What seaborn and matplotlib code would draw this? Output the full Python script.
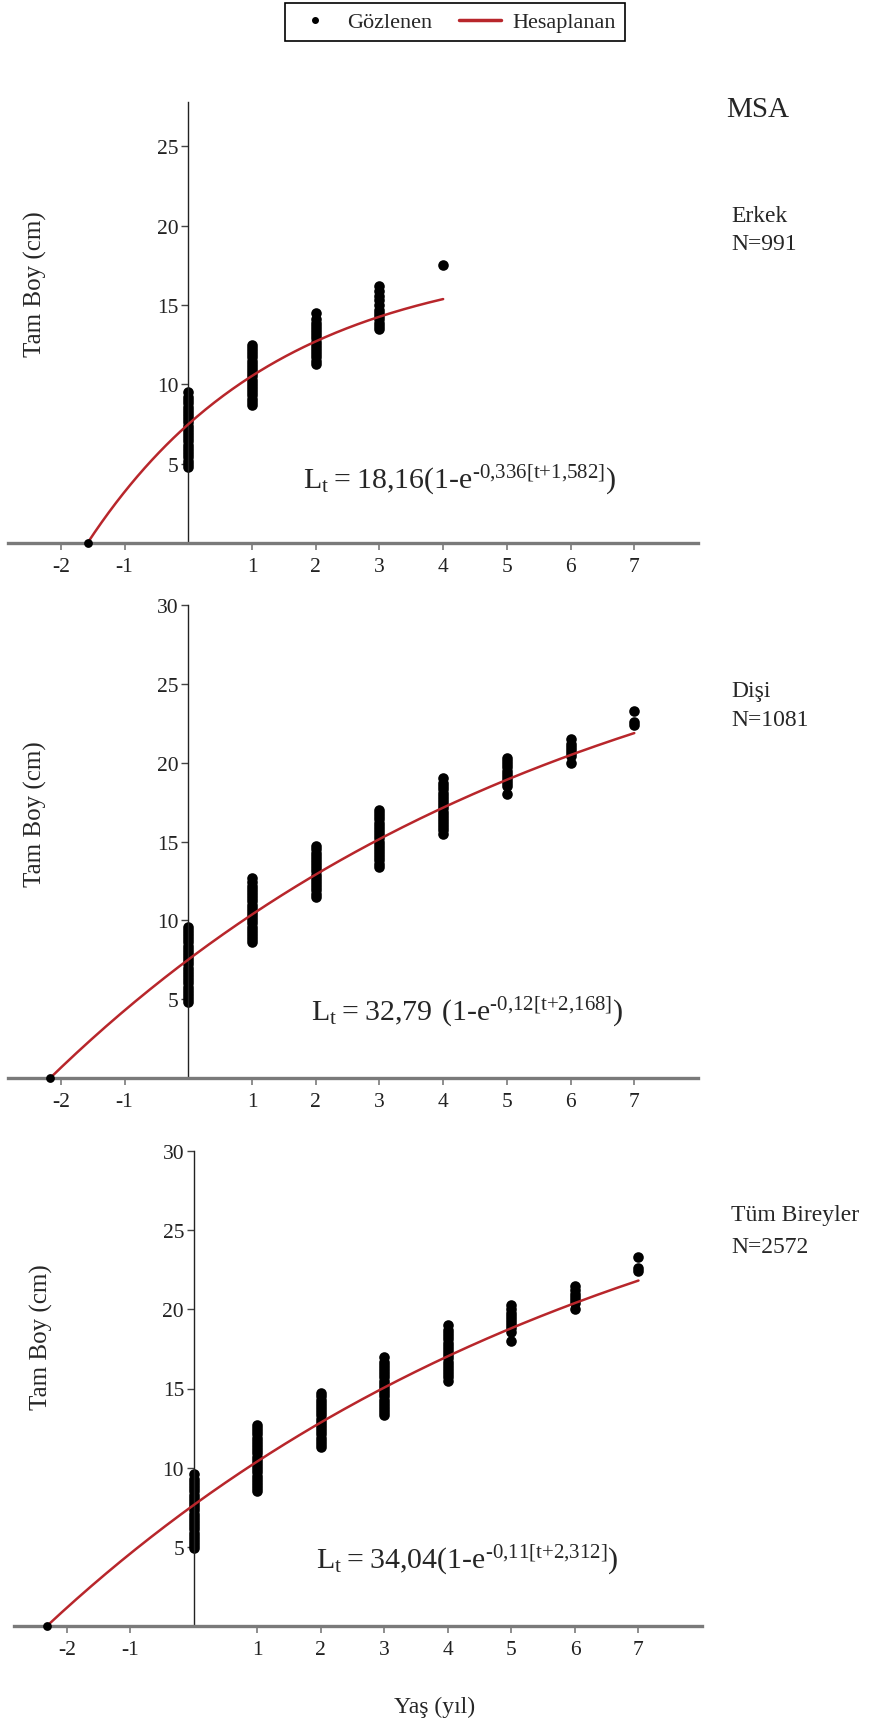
import numpy as np
import pandas as pd
import matplotlib.pyplot as plt
import seaborn as sns
from matplotlib.lines import Line2D

sns.set_style('white')
plt.rcParams['font.family'] = ['Liberation Serif', 'DejaVu Serif']
plt.rcParams['mathtext.fontset'] = 'custom'
plt.rcParams['mathtext.rm'] = 'Liberation Serif'
plt.rcParams['axes.unicode_minus'] = False

# gözlenen boylar (cm), yaş grubuna göre
erkek_boy = {
    0: [4.8, 5.0, 5.2, 5.4, 5.6, 5.8, 6.0, 6.2, 6.4, 6.6, 6.8, 7.0, 7.2, 7.4, 7.6, 7.8, 8.0, 8.2, 8.4, 8.6, 8.8, 9.0, 9.2, 9.5],
    1: [8.7, 8.9, 9.1, 9.3, 9.5, 9.7, 9.9, 10.1, 10.3, 10.5, 10.7, 10.9, 11.1, 11.3, 11.5, 11.7, 11.9, 12.1, 12.3, 12.5],
    2: [11.3, 11.5, 11.7, 11.9, 12.1, 12.3, 12.5, 12.7, 12.9, 13.1, 13.3, 13.5, 13.7, 13.9, 14.1, 14.5],
    3: [13.5, 13.7, 13.9, 14.1, 14.3, 14.5, 14.7, 15.0, 15.3, 15.6, 15.9, 16.2],
    4: [17.5],
}
disi_boy = {
    0: [4.8, 5.0, 5.2, 5.4, 5.6, 5.8, 6.0, 6.2, 6.4, 6.6, 6.8, 7.0, 7.2, 7.4, 7.6, 7.8, 8.0, 8.2, 8.4, 8.6, 8.8, 9.0, 9.2, 9.4, 9.6],
    1: [8.6, 8.8, 9.0, 9.2, 9.4, 9.6, 9.8, 10.0, 10.2, 10.4, 10.6, 10.8, 11.0, 11.2, 11.4, 11.6, 11.8, 12.0, 12.2, 12.4, 12.7],
    2: [11.5, 11.7, 11.9, 12.1, 12.3, 12.5, 12.7, 12.9, 13.1, 13.3, 13.5, 13.7, 13.9, 14.1, 14.3, 14.5, 14.7],
    3: [13.4, 13.6, 13.8, 14.0, 14.2, 14.4, 14.6, 14.8, 15.0, 15.2, 15.4, 15.6, 15.8, 16.0, 16.2, 16.4, 16.6, 16.8, 17.0],
    4: [15.5, 15.7, 15.9, 16.1, 16.3, 16.5, 16.7, 16.9, 17.1, 17.3, 17.5, 17.7, 17.9, 18.1, 18.3, 18.5, 18.7, 19.0],
    5: [18.0, 18.5, 18.7, 18.9, 19.1, 19.3, 19.5, 19.7, 19.9, 20.1, 20.3],
    6: [20.0, 20.4, 20.6, 20.8, 21.0, 21.2, 21.5],
    7: [22.4, 22.6, 23.3],
}
tum_boy = {
    0: [4.9, 5.1, 5.3, 5.5, 5.7, 5.9, 6.1, 6.3, 6.5, 6.7, 6.9, 7.1, 7.3, 7.5, 7.7, 7.9, 8.1, 8.3, 8.5, 8.7, 8.9, 9.1, 9.3, 9.6],
    1: [8.5, 8.7, 8.9, 9.1, 9.3, 9.5, 9.7, 9.9, 10.1, 10.3, 10.5, 10.7, 10.9, 11.1, 11.3, 11.5, 11.7, 11.9, 12.1, 12.3, 12.5, 12.7],
    2: [11.3, 11.5, 11.7, 11.9, 12.1, 12.3, 12.5, 12.7, 12.9, 13.1, 13.3, 13.5, 13.7, 13.9, 14.1, 14.3, 14.5, 14.7],
    3: [13.3, 13.5, 13.7, 13.9, 14.1, 14.3, 14.5, 14.7, 14.9, 15.1, 15.3, 15.5, 15.7, 15.9, 16.1, 16.3, 16.5, 16.7, 17.0],
    4: [15.5, 15.7, 15.9, 16.1, 16.3, 16.5, 16.7, 16.9, 17.1, 17.3, 17.5, 17.7, 17.9, 18.1, 18.3, 18.5, 18.7, 19.0],
    5: [18.0, 18.6, 18.8, 19.0, 19.2, 19.4, 19.6, 19.8, 20.0, 20.3],
    6: [20.0, 20.4, 20.6, 20.8, 21.0, 21.2, 21.5],
    7: [22.4, 22.6, 23.3],
}

# von Bertalanffy parametreleri: Linf, k, t0, son yaş
erkek_vb = [18.16, 0.336, -1.582, 4]
disi_vb = [32.79, 0.12, -2.168, 7]
tum_vb = [34.04, 0.11, -2.312, 7]

tire = '\u2010'
denklemler = [
    r'$\mathregular{L_t= 18{,}16(1' + tire + r'e^{' + tire + r'0{,}336[t{+}1{,}582]})}$',
    r'$\mathregular{L_t= 32{,}79\ (1' + tire + r'e^{' + tire + r'0{,}12[t{+}2{,}168]})}$',
    r'$\mathregular{L_t= 34{,}04(1' + tire + r'e^{' + tire + r'0{,}11[t{+}2{,}312]})}$',
]
gruplar = [['Erkek', 'N=991'], ['Dişi', 'N=1081'], ['Tüm Bireyler', 'N=2572']]

kirmizi = '#b8262b'

fig = plt.figure(figsize=(8.7, 17.24), dpi=100)
W, H = 870, 1724

# panel yerleşimi (piksel): sol, sağ, üst, alt
paneller = [(8, 698, 103, 544), (8, 698, 606, 1079), (14, 702, 1152, 1627)]
ust_sinir = [27.8, 30, 30]
yticks = [[5, 10, 15, 20, 25], [5, 10, 15, 20, 25, 30], [5, 10, 15, 20, 25, 30]]
ylabel_y = [0.59, 0.56, 0.61]
denklem_xy = [(1.80, 4.0), (1.92, 4.25), (1.92, 4.24)]
grup_y = [(217, 245), (692, 720), (1216, 1248)]

for i, (boy, vb) in enumerate(zip([erkek_boy, disi_boy, tum_boy], [erkek_vb, disi_vb, tum_vb])):
    l, r, t, b = paneller[i]
    ax = fig.add_axes([l / W, 1 - b / H, (r - l) / W, (b - t) / H])

    df = pd.DataFrame([(yas, v) for yas, vals in boy.items() for v in vals], columns=['yas', 'boy'])
    df0 = pd.DataFrame({'yas': [vb[2]], 'boy': [0.0]})
    sns.scatterplot(data=df, x='yas', y='boy', color='black', s=58, linewidth=0,
                    ax=ax, clip_on=False, zorder=2)
    sns.scatterplot(data=df0, x='yas', y='boy', color='black', s=40, linewidth=0,
                    ax=ax, clip_on=False, zorder=4)

    Linf, k, t0, tmax = vb
    tt = np.linspace(t0, tmax, 200)
    sns.lineplot(x=tt, y=Linf * (1 - np.exp(-k * (tt - t0))), color=kirmizi, lw=1.8,
                 ax=ax, zorder=3)

    ax.set_xlim(-2.83, 8.0)
    ax.set_ylim(0, ust_sinir[i])
    ax.spines['left'].set_position(('data', 0))
    ax.spines['left'].set_linewidth(1.0)
    ax.spines['left'].set_color('#222222')
    ax.spines['bottom'].set_linewidth(2.4)
    ax.spines['bottom'].set_color('#7a7a7a')
    ax.spines['top'].set_visible(False)
    ax.spines['right'].set_visible(False)
    ax.set_xticks([-2, -1, 1, 2, 3, 4, 5, 6, 7])
    ax.set_yticks(yticks[i])
    ax.tick_params(axis='x', bottom=True, direction='out', length=5, width=1.2,
                   color='#7a7a7a', labelsize=15.5, pad=5, labelcolor='#222222')
    ax.tick_params(axis='y', left=True, direction='out', length=5, width=1.0,
                   color='#444444', labelsize=15.5, pad=2, labelcolor='#222222')
    ax.set_xlabel('')
    ax.set_ylabel('Tam Boy (cm)', fontsize=18)
    ax.yaxis.set_label_coords(0.057, ylabel_y[i])
    ax.patch.set_alpha(0)

    ax.text(denklem_xy[i][0], denklem_xy[i][1], denklemler[i], fontsize=21.5,
            va='center', ha='left')

    fig.text(731 / W, 1 - grup_y[i][0] / H, gruplar[i][0], fontsize=17, va='center', ha='left')
    fig.text(731 / W, 1 - grup_y[i][1] / H, gruplar[i][1], fontsize=17, va='center', ha='left')

fig.text(758 / W, 1 - 110 / H, 'MSA', fontsize=21, va='center', ha='center')
fig.text(435 / W, 1 - 1707 / H, 'Yaş (yıl)', fontsize=17, va='center', ha='center')

handles = [Line2D([], [], marker='o', color='black', linestyle='None', markersize=4),
           Line2D([], [], color=kirmizi, lw=2.5)]
leg = fig.legend(handles, ['Gözlenen', 'Hesaplanan'], loc='center', ncol=2,
                 bbox_to_anchor=(455 / W, 1 - 23 / H), fontsize=16, frameon=True,
                 fancybox=False, edgecolor='black', framealpha=1, handlelength=1.9,
                 handletextpad=0.5, columnspacing=1.2, borderpad=0.4)
leg.get_frame().set_linewidth(1.2)

fig.savefig('out.png', dpi=100)
